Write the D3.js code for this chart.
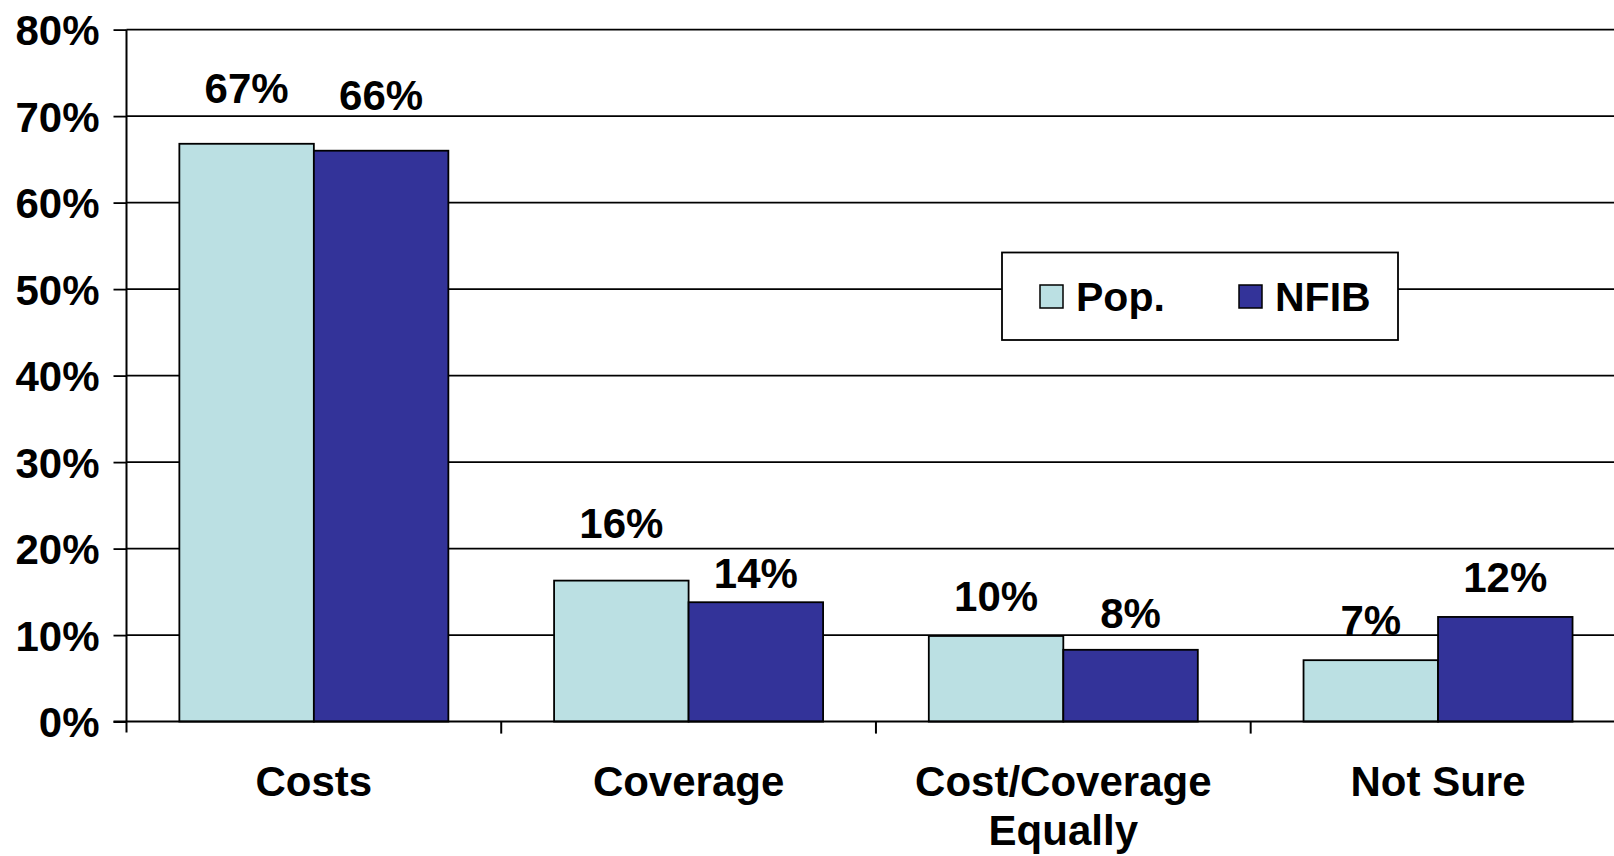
<!DOCTYPE html>
<html>
<head>
<meta charset="utf-8">
<script src="https://cdn.jsdelivr.net/npm/d3@7"></script>
<style>
  html, body { margin: 0; padding: 0; background: #fff; }
  svg { display: block; }
  text { font-family: "Liberation Sans", Arial, sans-serif; font-weight: bold; fill: #000; }
</style>
</head>
<body>
<svg id="chart" width="1614" height="856"></svg>
<script>
// ---- data ----
const categories = [["Costs"], ["Coverage"], ["Cost/Coverage", "Equally"], ["Not Sure"]];
const seriesNames = ["Pop.", "NFIB"];
const popValues  = [66.8, 16.3, 9.9, 7.1];
const nfibValues = [66.0, 13.8, 8.3, 12.1];
const popLabels  = ["67%", "16%", "10%", "7%"];
const nfibLabels = ["66%", "14%", "8%", "12%"];
const yTicks = [0, 10, 20, 30, 40, 50, 60, 70, 80];

// label gap above bar tops (layout only)
const popLabelGap  = [41, 43, 25, 25];
const nfibLabelGap = [41, 14, 22, 25];

const colors = { "Pop.": "#BBE0E3", "NFIB": "#333399" };

const svg = d3.select("#chart");
const plotLeft = 126.5, plotRight = 1625.4, plotTop = 29.6, plotBottom = 721.6;

const x0 = d3.scaleBand().domain(d3.range(categories.length)).range([plotLeft, plotRight]).paddingInner(0).paddingOuter(0);
const x1 = d3.scaleBand().domain(seriesNames).range([0, x0.bandwidth()]).paddingInner(0).paddingOuter(0.393);
const y = d3.scaleLinear().domain([0, 80]).range([plotBottom, plotTop]);

// gridlines
svg.append("g").selectAll("line").data(yTicks.filter(t => t > 0)).join("line")
  .attr("x1", plotLeft).attr("x2", 1614)
  .attr("y1", d => y(d)).attr("y2", d => y(d))
  .attr("stroke", "#000").attr("stroke-width", 1.6);

// y axis
const yAxis = d3.axisLeft(y).tickValues(yTicks).tickSize(13).tickPadding(14).tickFormat(d => d + "%");
const gy = svg.append("g").attr("transform", `translate(${plotLeft},0)`).call(yAxis);
gy.attr("font-family", null).attr("font-size", null);
gy.select(".domain").attr("stroke", "#000").attr("stroke-width", 2).attr("d", `M0,${plotTop}V${plotBottom + 11}`);
gy.selectAll(".tick line").attr("stroke", "#000").attr("stroke-width", 1.8);
gy.selectAll(".tick text").style("font-size", "42px").attr("dy", "0.36em");

// bars
const rows = categories.map((c, i) => ({ i, vals: [
  { s: "Pop.", v: popValues[i], label: popLabels[i], gap: popLabelGap[i] },
  { s: "NFIB", v: nfibValues[i], label: nfibLabels[i], gap: nfibLabelGap[i] }
]}));

const gBars = svg.append("g");
const groups = gBars.selectAll("g").data(rows).join("g")
  .attr("transform", d => `translate(${x0(d.i)},0)`);

groups.selectAll("rect").data(d => d.vals).join("rect")
  .attr("x", d => x1(d.s))
  .attr("y", d => y(d.v))
  .attr("width", x1.bandwidth())
  .attr("height", d => y(0) - y(d.v))
  .attr("fill", d => colors[d.s])
  .attr("stroke", "#000").attr("stroke-width", 1.8);

groups.selectAll("text").data(d => d.vals).join("text")
  .attr("x", d => x1(d.s) + x1.bandwidth() / 2)
  .attr("y", d => y(d.v) - d.gap)
  .attr("text-anchor", "middle")
  .style("font-size", "42px")
  .text(d => d.label);

// x axis baseline
svg.append("line").attr("x1", plotLeft - 13).attr("x2", 1614).attr("y1", plotBottom).attr("y2", plotBottom)
  .attr("stroke", "#000").attr("stroke-width", 2);

// category boundary ticks
svg.append("g").selectAll("line").data(d3.range(1, categories.length)).join("line")
  .attr("x1", d => x0(d)).attr("x2", d => x0(d))
  .attr("y1", plotBottom).attr("y2", plotBottom + 12)
  .attr("stroke", "#000").attr("stroke-width", 2);

// category labels
const cl = svg.append("g").selectAll("text").data(categories).join("text")
  .attr("x", (d, i) => x0(i) + x0.bandwidth() / 2)
  .attr("y", 796)
  .attr("text-anchor", "middle")
  .style("font-size", "42px");
cl.selectAll("tspan").data(d => d).join("tspan")
  .attr("x", function() { return d3.select(this.parentNode).attr("x"); })
  .attr("dy", (d, j) => j === 0 ? 0 : 49)
  .text(d => d);

// legend
const lg = svg.append("g");
lg.append("rect").attr("x", 1002).attr("y", 252.5).attr("width", 396).attr("height", 87.5)
  .attr("fill", "#fff").attr("stroke", "#000").attr("stroke-width", 1.8);
const legendX = [1040, 1239];
seriesNames.forEach((s, i) => {
  lg.append("rect").attr("x", legendX[i]).attr("y", 285).attr("width", 23).attr("height", 23)
    .attr("fill", colors[s]).attr("stroke", "#000").attr("stroke-width", 1.5);
  lg.append("text").attr("x", legendX[i] + 36).attr("y", 310.5)
    .style("font-size", "41px").text(s);
});
</script>
</body>
</html>
